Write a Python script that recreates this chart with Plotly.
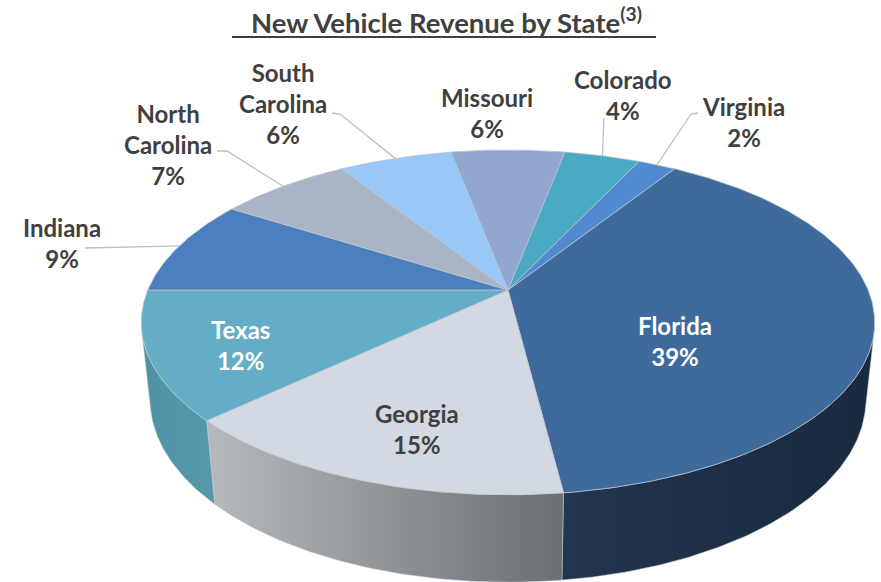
import math
import plotly.graph_objects as go

# ---------------- data ----------------
states = ["Florida", "Georgia", "Texas", "Indiana", "North Carolina",
          "South Carolina", "Missouri", "Colorado", "Virginia"]
shares = [39, 15, 12, 9, 7, 6, 6, 4, 2]
label_text = ["Florida", "Georgia", "Texas", "Indiana", "North<br>Carolina",
              "South<br>Carolina", "Missouri", "Colorado", "Virginia"]

# ---------------- style ----------------
top_colors = ["#3F6A9C", "#D3D9E2", "#63AEC6", "#4B7FBE", "#A9B5C6",
              "#97C8F8", "#91A7D0", "#4AAAC3", "#528AD2"]
side_grad = {
    "Florida": ["#23354f", "#172a3f"],
    "Georgia": ["#b6babf", "#6b6e72"],
    "Texas": ["#4d92a4", "#5699ab"],
}
label_color = {"Florida": "white", "Texas": "white"}
# label centres (pixels) and leader elbows
label_pos = {
    "Florida": (675, 341), "Georgia": (417, 429), "Texas": (240, 345),
    "Indiana": (62, 243), "North Carolina": (168, 144),
    "South Carolina": (283, 103), "Missouri": (487, 113),
    "Colorado": (623, 95), "Virginia": (743, 122),
}
leader_start = {
    "Indiana": [(85, 248)],
    "North Carolina": [(217, 151), (227, 151)],
    "South Carolina": [(332, 113), (340, 114)],
    "Colorado": [(604, 118)],
    "Virginia": [(698, 113), (691, 114)],
}

W, H = 881, 582
CX, CY = 508, 290
D, ELEV, F = 4.72, math.radians(27.5), 1700
THICK = 0.244
START = 32.4  # degrees clockwise from the back of the pie
S, C = math.sin(ELEV), math.cos(ELEV)


def proj(theta, y=0.0):
    t = math.radians(theta)
    X, Z = math.sin(t), -math.cos(t)
    w = D - S * y - C * Z
    return CX + F * X / w, CY + F * (S * Z - C * y) / w


def arc(a, b, y=0.0, n=None):
    n = n or max(4, int(abs(b - a) * 1.5))
    pts = [proj(a + (b - a) * i / n, y) for i in range(n + 1)]
    return [p[0] for p in pts], [p[1] for p in pts]


# angles from data
total = sum(shares)
bounds = []
acc = START
for v in shares:
    a = acc
    acc += 360.0 * v / total
    bounds.append((a, acc))

vis_lo = 90 + math.degrees(math.asin(1 / (D * C)))
vis_hi = 360 - vis_lo

fig = go.Figure()

# side walls
for name, (a, b) in zip(states, bounds):
    lo, hi = max(a, vis_lo), min(b, vis_hi)
    if hi <= lo:
        continue
    tx, ty = arc(lo, hi, 0.0)
    bx, by = arc(hi, lo, -THICK)
    g = side_grad.get(name, ["#555", "#555"])
    fig.add_trace(go.Scatter(
        x=tx + bx + [tx[0]], y=ty + by + [ty[0]], mode="lines",
        fill="toself", line=dict(color="rgba(200,204,210,0.7)", width=0.8),
        fillgradient=dict(type="horizontal",
                          colorscale=[[0, g[0]], [1, g[1]]]),
        hoverinfo="skip", showlegend=False))

# top faces
for name, (a, b), col in zip(states, bounds, top_colors):
    ax, ay = arc(a, b, 0.0)
    fig.add_trace(go.Scatter(
        x=[CX] + ax + [CX], y=[CY] + ay + [CY], mode="lines",
        fill="toself", fillcolor=col,
        line=dict(color="rgba(190,195,203,0.9)", width=0.8),
        hoverinfo="skip", showlegend=False))

# leader lines
for name, (a, b) in zip(states, bounds):
    if name not in leader_start:
        continue
    ex, ey = proj((a + b) / 2, 0.0)
    pts = leader_start[name] + [(ex, ey)]
    fig.add_trace(go.Scatter(
        x=[p[0] for p in pts], y=[p[1] for p in pts], mode="lines",
        line=dict(color="#bfbfbf", width=1.3),
        hoverinfo="skip", showlegend=False))

# labels
for name, txt, v in zip(states, label_text, shares):
    x, y = label_pos[name]
    fig.add_annotation(
        x=x, y=y, xref="x", yref="y", showarrow=False,
        text=f"<b>{txt}<br>{v}%</b>", align="center",
        font=dict(family="Lato", size=24, color=label_color.get(name, "#404040")))

# title
fig.add_annotation(
    x=446, y=20, xref="x", yref="y", showarrow=False,
    text="<b>New Vehicle Revenue by State<sup>(3)</sup></b>",
    font=dict(family="Lato", size=27.5, color="#404040"))
fig.add_shape(type="line", x0=232, x1=656, y0=37, y1=37, xref="x", yref="y",
              line=dict(color="#404040", width=2))

fig.update_layout(
    width=W, height=H, margin=dict(l=0, r=0, t=0, b=0),
    paper_bgcolor="white", plot_bgcolor="white",
    xaxis=dict(range=[0, W], visible=False, fixedrange=True),
    yaxis=dict(range=[H, 0], visible=False, fixedrange=True),
)

fig.write_html("out.html",
               config={"displayModeBar": False, "staticPlot": True},
               post_script="document.body.style.margin='0';document.body.style.overflow='hidden';")
